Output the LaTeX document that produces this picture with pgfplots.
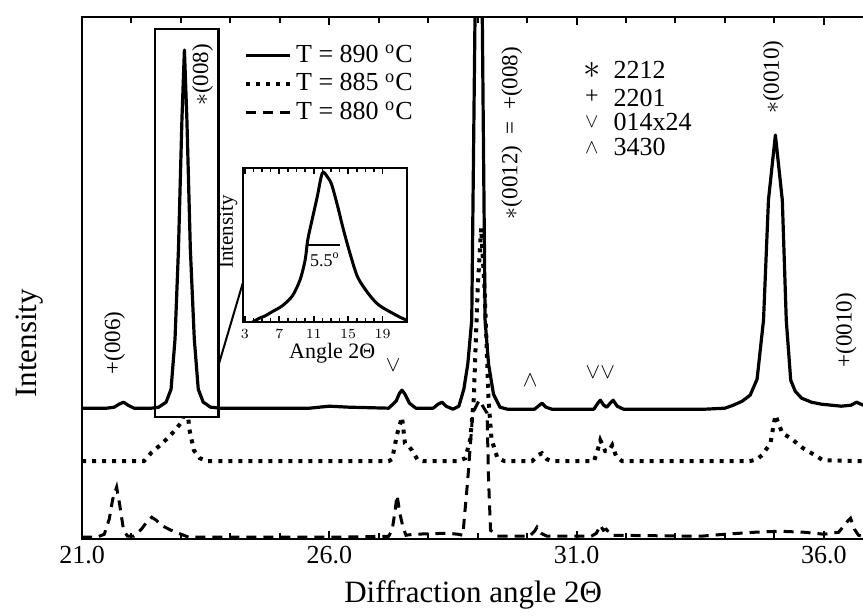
\documentclass[border=0pt]{standalone}
\usepackage{fontspec}
\setmainfont{Liberation Serif}
\usepackage{pgfplots}
\usepackage{pgfplotstable}
\pgfplotsset{compat=1.18}

\newcommand{\fsz}[1]{\fontsize{#1}{#1}\selectfont}

% T = 890 C (solid), offset by hand as in the original
\pgfplotstableread{
x y
21.00 131
21.50 131
21.65 132
21.75 135
21.84 137
21.93 134
22.05 131
22.40 131
22.55 132
22.70 137
22.80 150
22.88 200
22.95 290
23.02 420
23.07 489
23.12 420
23.19 290
23.27 200
23.35 150
23.45 137
23.60 132
23.80 131
25.60 131
26.00 133
26.40 132
27.20 131
27.35 138
27.42 146
27.47 149
27.53 145
27.62 136
27.75 131
28.10 131
28.20 135
28.28 137
28.36 133
28.50 130
28.62 133
28.72 150
28.80 175
28.88 219
28.95 540
29.02 700
29.09 540
29.15 219
29.22 175
29.32 145
29.45 132
29.60 130
30.15 130
30.25 134
30.30 136
30.38 132
30.50 130
31.35 130
31.43 136
31.48 139
31.55 134
31.61 132
31.68 136
31.74 139
31.82 133
31.95 130
33.60 130
34.00 131
34.17 134
34.35 138
34.51 144
34.65 160
34.78 219
34.88 339
35.02 404
35.16 339
35.24 219
35.33 159
35.42 148
35.55 141
35.75 137
35.95 135
36.35 133
36.55 134
36.66 137
36.75 135
36.80 134
}\solidtab

% T = 885 C (dotted)
\pgfplotstableread{
x y
21.00 78
22.25 78
22.41 87
22.58 94
22.75 102
22.90 110
23.01 117
23.06 125
23.10 300
23.14 125
23.17 110
23.26 89
23.38 81
23.55 78
27.20 78
27.27 80
27.37 105
27.47 122
27.53 96
27.62 92
27.67 89
27.79 79
27.90 78
28.60 78
28.75 81
28.85 100
28.92 139
29.00 250
29.07 311
29.14 250
29.22 139
29.28 100
29.40 81
29.55 78
30.10 78
30.22 84
30.30 86
30.40 80
30.50 78
31.35 78
31.42 88
31.48 99
31.58 88
31.65 88
31.72 94
31.80 83
31.92 78
34.50 78
34.65 80
34.75 84
34.92 96
35.02 124
35.16 106
35.33 101
35.58 91
35.82 84
35.98 79
36.80 78
}\dottab

% T = 880 C (dashed)
\pgfplotstableread{
x y
21.00 2
21.30 2
21.45 5
21.55 20
21.62 40
21.70 52
21.76 35
21.84 9
21.92 3
22.05 3
22.20 10
22.32 18
22.41 22
22.50 19
22.60 14
22.80 9
22.95 6
23.16 2
26.00 2
27.20 3
27.27 9
27.32 25
27.37 44
27.43 25
27.49 12
27.55 4
27.70 5
28.40 6
28.60 5
28.70 4
28.80 60
28.90 126
29.03 139
29.19 126
29.22 60
29.26 9
29.40 3
30.05 3
30.15 8
30.20 12
30.28 6
30.40 3
31.30 3
31.40 6
31.48 14
31.54 9
31.60 10
31.70 4
33.50 3
34.00 5
34.60 7
35.10 8
35.60 7
36.00 5
36.30 7
36.48 18
36.54 21
36.62 10
36.70 4
36.80 3
}\dashtab

% inset peak
\pgfplotstableread{
x y
3.9 0
4.7 4
5.3 6
6.3 11
7.3 16
8.5 26
9.4 42
10.0 62
10.3 82
10.8 102
11.4 125
12.0 149
12.6 145
13.1 137
13.8 115
14.4 94
15.2 69
16.1 45
17.3 29
18.3 19
19.1 14
21.0 5
21.8 2
}\insettab

\tikzset{
  s890/.style={line width=1.6pt, line join=round},
  s885/.style={line width=2pt, dash pattern=on 2pt off 3pt},
  s880/.style={line width=1.5pt, dash pattern=on 5pt off 3.5pt},
}
\pgfplotsset{
  legend image code/.code={\draw[#1] (0pt,0pt) -- (22pt,0pt);},
}

\begin{document}
\begin{tikzpicture}
\begin{axis}[
    name=main,
    scale only axis,
    width=391pt, height=261pt,
    xmin=21, xmax=36.82, ymin=0, ymax=522,
    axis line style={line width=1.2pt},
    xtick={21,26,31,36},
    xticklabels={21.0,26.0,31.0,36.0},
    minor x tick num=4,
    ytick=\empty,
    tick align=inside,
    major tick length=4pt, minor tick length=3pt,
    tick style={line width=1pt, black},
    tick label style={font=\fsz{13}},
    xlabel={Diffraction angle 2Θ},
    xlabel style={at={(axis description cs:0.5,-0.107)}, anchor=center, font=\fsz{15.5}},
    ylabel={Intensity},
    ylabel style={at={(axis description cs:-0.0666,0.375)}, anchor=center, font=\fsz{15.5}},
    legend cell align=left,
    legend style={at={(axis description cs:0.199,0.962)}, anchor=north west,
      draw=none, fill=none, font=\fsz{13}, row sep=0pt},
]
\addplot[s885, forget plot] table {\dottab};
\addplot[s880, forget plot] table {\dashtab};
\addplot[fill=white, draw=black, line width=1.2pt, forget plot] coordinates {(22.47,122) (23.76,122) (23.76,510) (22.47,510) (22.47,122) (23.0,122)};
\addplot[line width=1pt, forget plot] coordinates {(23.76,174) (24.25,256)};
\addplot[s890, forget plot] table {\solidtab};

\addlegendimage{s890}
\addlegendentry{T = 890 \textsuperscript{o}C}
\addlegendimage{s885}
\addlegendentry{T = 885 \textsuperscript{o}C}
\addlegendimage{s880}
\addlegendentry{T = 880 \textsuperscript{o}C}

% peak labels
\node[rotate=90, font=\fsz{11.5}] at (axis cs:21.66,196) {+(006)};
\node[rotate=90, font=\fsz{11.5}] at (axis cs:23.44,464) {$\ast$(008)};
\node[rotate=90, font=\fsz{11.5}] at (axis cs:29.69,406) {$\ast$(0012)~~=~~+(008)};
\node[rotate=90, font=\fsz{11.5}] at (axis cs:34.98,462) {$\ast$(0010)};
\node[rotate=90, font=\fsz{11.5}] at (axis cs:36.45,209) {+(0010)};
\node[font=\fsz{11}] at (axis cs:27.29,174) {$\vee$};
\node[font=\fsz{11}] at (axis cs:30.06,159) {$\wedge$};
\node[font=\fsz{11}] at (axis cs:31.48,167) {$\vee\vee$};

% phase key
\node[inner sep=0pt, font=\fsz{16}] at (axis cs:31.31,469) {$\ast$};
\node[inner sep=0pt, font=\fsz{12}] at (axis cs:31.31,442) {+};
\node[inner sep=0pt, font=\fsz{10}] at (axis cs:31.31,417) {$\vee$};
\node[inner sep=0pt, font=\fsz{10}] at (axis cs:31.31,391) {$\wedge$};
\node[anchor=west, inner sep=0pt, font=\fsz{13}] at (axis cs:31.74,469) {2212};
\node[anchor=west, inner sep=0pt, font=\fsz{13}] at (axis cs:31.74,441) {2201};
\node[anchor=west, inner sep=0pt, font=\fsz{13}] at (axis cs:31.74,417) {014x24};
\node[anchor=west, inner sep=0pt, font=\fsz{13}] at (axis cs:31.74,392) {3430};
\end{axis}

\begin{axis}[
    at={(80.5pt,108.5pt)}, anchor=south west,
    scale only axis,
    width=82pt, height=77pt,
    xmin=2.8, xmax=21.85, ymin=0, ymax=154,
    axis background/.style={fill=white},
    axis line style={line width=1pt},
    xtick={3,7,11,15,19},
    minor x tick num=3,
    ytick=\empty,
    tick align=inside,
    major tick length=3pt, minor tick length=2pt,
    tick style={line width=0.8pt, black},
    tick label style={font=\fsz{7.5}},
    xlabel={Angle 2Θ},
    xlabel style={at={(axis description cs:0.543,-0.2)}, anchor=center, font=\fsz{11}},
    ylabel={Intensity},
    ylabel style={at={(axis description cs:-0.0915,0.584)}, anchor=center, font=\fsz{10.5}},
]
\addplot[line width=1.5pt, smooth, tension=0.5] table {\insettab};
\addplot[line width=1pt] coordinates {(10.2,77) (14.05,77)};
\node[font=\fsz{9}] at (axis cs:12.3,62) {5.5\textsuperscript{o}};
\end{axis}

\pgfresetboundingbox
\path[use as bounding box] (-41pt,-38pt) rectangle (390.3pt,269.5pt);
\end{tikzpicture}
\end{document}
